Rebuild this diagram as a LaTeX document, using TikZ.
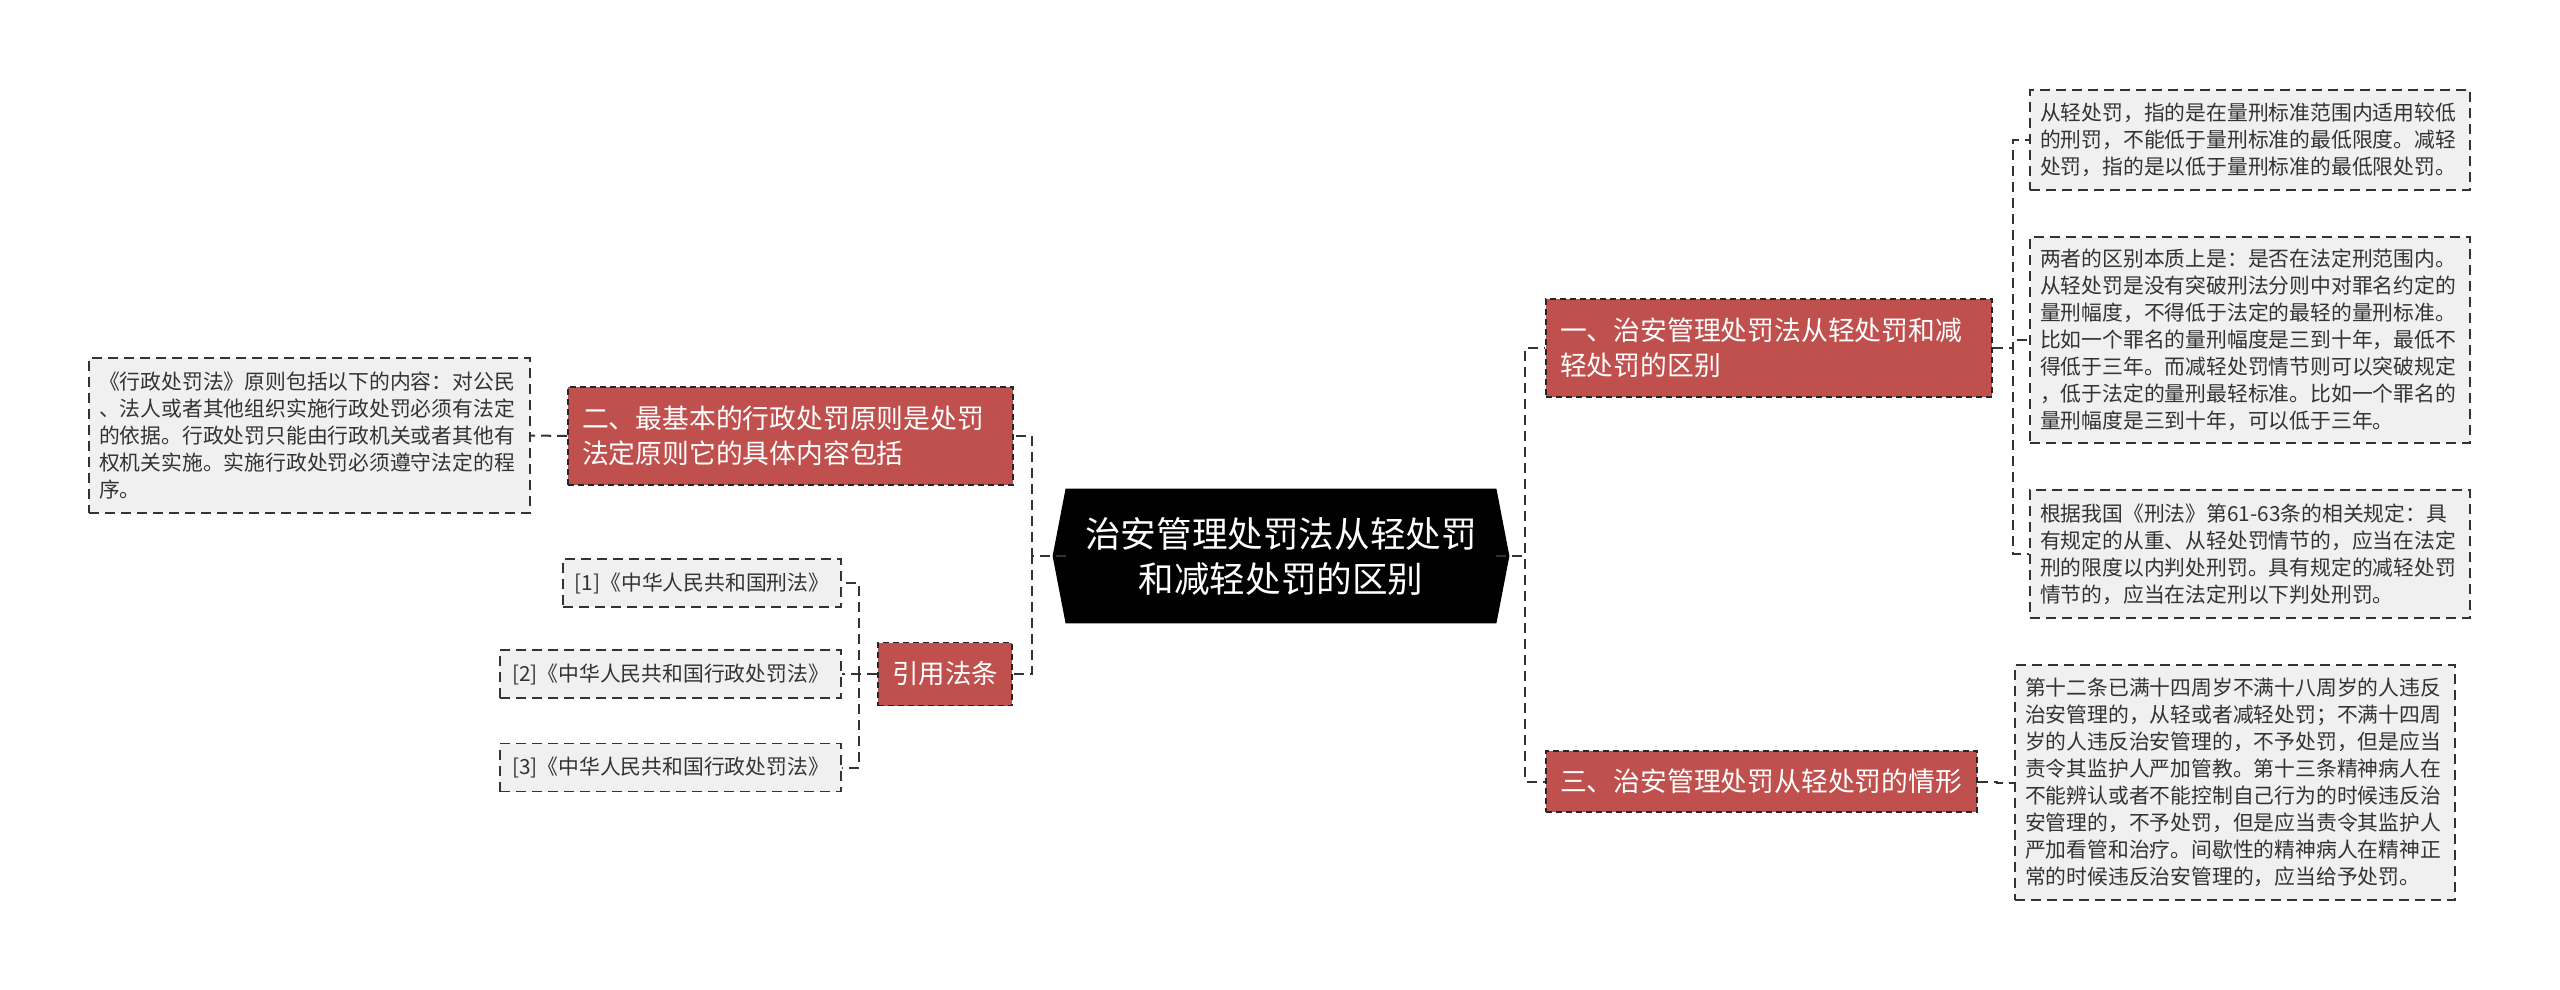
\documentclass[tikz,border=0pt]{standalone}
\usepackage{fontspec}
\setmainfont{Noto Sans CJK SC}
\usetikzlibrary{backgrounds}
\definecolor{branchred}{RGB}{192,80,77}
\definecolor{leafgray}{RGB}{240,240,240}
\definecolor{linegray}{RGB}{51,51,51}

\begin{document}
\begin{tikzpicture}[x=0.5pt,y=-0.5pt,
		link/.style={draw=linegray,line width=1pt,dash pattern=on 5pt off 3pt},
		rootbox/.style={text=white,align=center,font=\fontsize{17.8}{22.5}\selectfont,minimum width=215pt,minimum height=67pt,inner sep=0pt},
		branchbox/.style={fill=branchred,draw=black!85,line width=0.8pt,dash pattern=on 3pt off 2pt,text=white,font=\fontsize{13.4}{17.5}\selectfont,align=left,inner xsep=7pt,inner ysep=0pt},
		leafbox/.style={fill=leafgray,draw=linegray,line width=0.8pt,dash pattern=on 5pt off 3pt,text=black!80,font=\fontsize{10.4}{13.5}\selectfont,align=left,inner xsep=5pt,inner ysep=0pt}]
			\useasboundingbox (0,0) rectangle (2560,990);
			
			\node[rootbox] (root) at (1281,556) {治安管理处罚法从轻处罚\\和减轻处罚的区别};
			\begin{scope}[on background layer]
				\fill[black] (root.north west) -- (root.north east) -- ([xshift=6.5pt]root.east) -- (root.south east) -- (root.south west) -- ([xshift=-6.5pt]root.west) -- cycle;
			\end{scope}
			
			\node[branchbox,text width=209pt,minimum height=49pt] (diff) at (1769,348) {一、治安管理处罚法从轻处罚和减\\轻处罚的区别};
			\node[branchbox,text width=201.5pt,minimum height=30.5pt] (cases) at (1761.5,781.5) {三、治安管理处罚从轻处罚的情形};
			\node[branchbox,text width=208.5pt,minimum height=49pt] (rule) at (790.5,436) {二、最基本的行政处罚原则是处罚\\法定原则它的具体内容包括};
			\node[branchbox,align=center,font=\fontsize{13.2}{16}\selectfont,minimum width=67pt,minimum height=31.5pt] (cite) at (945,674) {引用法条};
			
			\node[leafbox,text width=210pt,minimum height=50pt] (def) at (2250,140) {从轻处罚，指的是在量刑标准范围内适用较低\\的刑罚，不能低于量刑标准的最低限度。减轻\\处罚，指的是以低于量刑标准的最低限处罚。};
			\node[leafbox,text width=210pt,minimum height=103pt] (essence) at (2250,340) {两者的区别本质上是：是否在法定刑范围内。\\从轻处罚是没有突破刑法分则中对罪名约定的\\量刑幅度，不得低于法定的最轻的量刑标准。\\比如一个罪名的量刑幅度是三到十年，最低不\\得低于三年。而减轻处罚情节则可以突破规定\\，低于法定的量刑最轻标准。比如一个罪名的\\量刑幅度是三到十年，可以低于三年。};
			\node[leafbox,text width=210pt,minimum height=64pt] (code) at (2250,554) {根据我国《刑法》第61-63条的相关规定：具\\有规定的从重、从轻处罚情节的，应当在法定\\刑的限度以内判处刑罚。具有规定的减轻处罚\\情节的，应当在法定刑以下判处刑罚。};
			\node[leafbox,text width=210pt,minimum height=117.5pt] (minor) at (2235,782.5) {第十二条已满十四周岁不满十八周岁的人违反\\治安管理的，从轻或者减轻处罚；不满十四周\\岁的人违反治安管理的，不予处罚，但是应当\\责令其监护人严加管教。第十三条精神病人在\\不能辨认或者不能控制自己行为的时候违反治\\安管理的，不予处罚，但是应当责令其监护人\\严加看管和治疗。间歇性的精神病人在精神正\\常的时候违反治安管理的，应当给予处罚。};
			\node[leafbox,text width=210.5pt,minimum height=77.5pt] (basis) at (309.5,435.5) {《行政处罚法》原则包括以下的内容：对公民\\、法人或者其他组织实施行政处罚必须有法定\\的依据。行政处罚只能由行政机关或者其他有\\权机关实施。实施行政处罚必须遵守法定的程\\序。};
			
			\node[leafbox,align=center,minimum width=139pt,minimum height=24pt] (law1) at (702,583) {[1]《中华人民共和国刑法》};
			\node[leafbox,align=center,minimum width=170.5pt,minimum height=24pt] (law2) at (670.5,674) {[2]《中华人民共和国行政处罚法》};
			\node[leafbox,align=center,minimum width=170.5pt,minimum height=24pt] (law3) at (670.5,767.5) {[3]《中华人民共和国行政处罚法》};
			
			% right side
			\draw[link] (root.east) -- ++(29,0) |- (diff.west);
			\draw[link] (root.east) -- ++(29,0) |- (cases.west);
			\draw[link] (diff.east) -- ++(20,0) |- (def.west);
			\draw[link] (diff.east) -- ++(20,0) |- (essence.west);
			\draw[link] (diff.east) -- ++(20,0) |- (code.west);
			\draw[link] (cases.east) -- ++(19,0) |- (minor.west);
			
			% left side
			\draw[link] (root.west) -- ++(-34,0) |- (rule.east);
			\draw[link] (root.west) -- ++(-34,0) |- (cite.east);
			\draw[link] (rule.west) -- (basis.east);
			\draw[link] (cite.west) -- ++(-18,0) |- (law1.east);
			\draw[link] (cite.west) -- ++(-18,0) |- (law2.east);
			\draw[link] (cite.west) -- ++(-18,0) |- (law3.east);
		\end{tikzpicture}
\end{document}
